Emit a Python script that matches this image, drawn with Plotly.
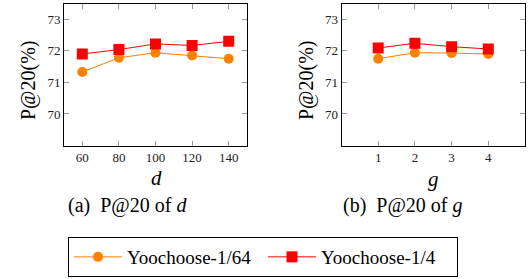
import plotly.graph_objects as go

d_vals = [60, 80, 100, 120, 140]
g_vals = [1, 2, 3, 4]
d_yc64 = [71.33, 71.78, 71.94, 71.85, 71.75]
d_yc4 = [71.90, 72.04, 72.22, 72.17, 72.30]
g_yc64 = [71.75, 71.94, 71.93, 71.90]
g_yc4 = [72.09, 72.24, 72.13, 72.06]
y_ticks = [70, 71, 72, 73]
series_names = ["Yoochoose-1/64", "Yoochoose-1/4"]

ORANGE = "#FF8000"
RED = "#FF0000"
SERIF = "Liberation Serif, Times New Roman, DejaVu Serif, serif"

fig = go.Figure()
fig.add_trace(go.Scatter(x=d_vals, y=d_yc64, mode="lines+markers", name=series_names[0],
                         line=dict(color=ORANGE, width=1), marker=dict(symbol="circle", size=10, color=ORANGE),
                         xaxis="x", yaxis="y"))
fig.add_trace(go.Scatter(x=d_vals, y=d_yc4, mode="lines+markers", name=series_names[1],
                         line=dict(color=RED, width=1), marker=dict(symbol="square", size=11, color=RED),
                         xaxis="x", yaxis="y"))
fig.add_trace(go.Scatter(x=g_vals, y=g_yc64, mode="lines+markers", name=series_names[0],
                         line=dict(color=ORANGE, width=1), marker=dict(symbol="circle", size=10, color=ORANGE),
                         xaxis="x2", yaxis="y2", showlegend=False))
fig.add_trace(go.Scatter(x=g_vals, y=g_yc4, mode="lines+markers", name=series_names[1],
                         line=dict(color=RED, width=1), marker=dict(symbol="square", size=11, color=RED),
                         xaxis="x2", yaxis="y2", showlegend=False))

W, H = 529, 279
ydom = [1 - 145.5 / H, 1 - 3.5 / H]
ax_common = dict(showline=True, linecolor="black", linewidth=1, mirror="ticks",
                 ticks="inside", ticklen=5, tickcolor="#999999", showgrid=False, zeroline=False,
                 tickfont=dict(family=SERIF, size=13, color="#222222"))


def ann(text, x, y, size, angle=0):
    return dict(text=text, x=x / W, y=1 - y / H, xref="paper", yref="paper",
                xanchor="center", yanchor="middle", showarrow=False, textangle=angle,
                font=dict(family=SERIF, size=size, color="black"))


fig.update_layout(
    width=W, height=H, margin=dict(l=0, r=0, t=0, b=0),
    plot_bgcolor="white", paper_bgcolor="white",
    xaxis=dict(domain=[64 / W, 247 / W], range=[50, 150], tickvals=d_vals, anchor="y", **ax_common),
    yaxis=dict(domain=ydom, range=[69, 73.5], tickvals=y_ticks, anchor="x", **ax_common),
    xaxis2=dict(domain=[341.5 / W, 525 / W], range=[0, 5], tickvals=g_vals, anchor="y2", **ax_common),
    yaxis2=dict(domain=ydom, range=[69, 73.5], tickvals=y_ticks, anchor="x2", **ax_common),
    legend=dict(orientation="h", x=68 / W, xanchor="left", y=1 - 277 / H, yanchor="bottom",
                bordercolor="black", borderwidth=1, font=dict(family=SERIF, size=19, color="black"),
                itemwidth=48, entrywidth=131, entrywidthmode="pixels",
                bgcolor="white"),
    annotations=[
        ann("<i>d</i>", 156, 178, 21),
        ann("<i>g</i>", 433, 179, 21),
        ann("P@20(%)", 28, 80, 20, -90),
        ann("P@20(%)", 306, 80, 20, -90),
        dict(text="(a)  P@20 of <i>d</i>", x=66 / W, y=1 - 205 / H, xref="paper", yref="paper",
             xanchor="left", yanchor="middle", showarrow=False,
             font=dict(family=SERIF, size=20, color="black")),
        dict(text="(b)  P@20 of <i>g</i>", x=341 / W, y=1 - 205 / H, xref="paper", yref="paper",
             xanchor="left", yanchor="middle", showarrow=False,
             font=dict(family=SERIF, size=20, color="black")),
    ],
)

fig.write_html("out.html", config={"displayModeBar": False},
               post_script="document.body.style.margin='0';document.body.style.padding='0';")
